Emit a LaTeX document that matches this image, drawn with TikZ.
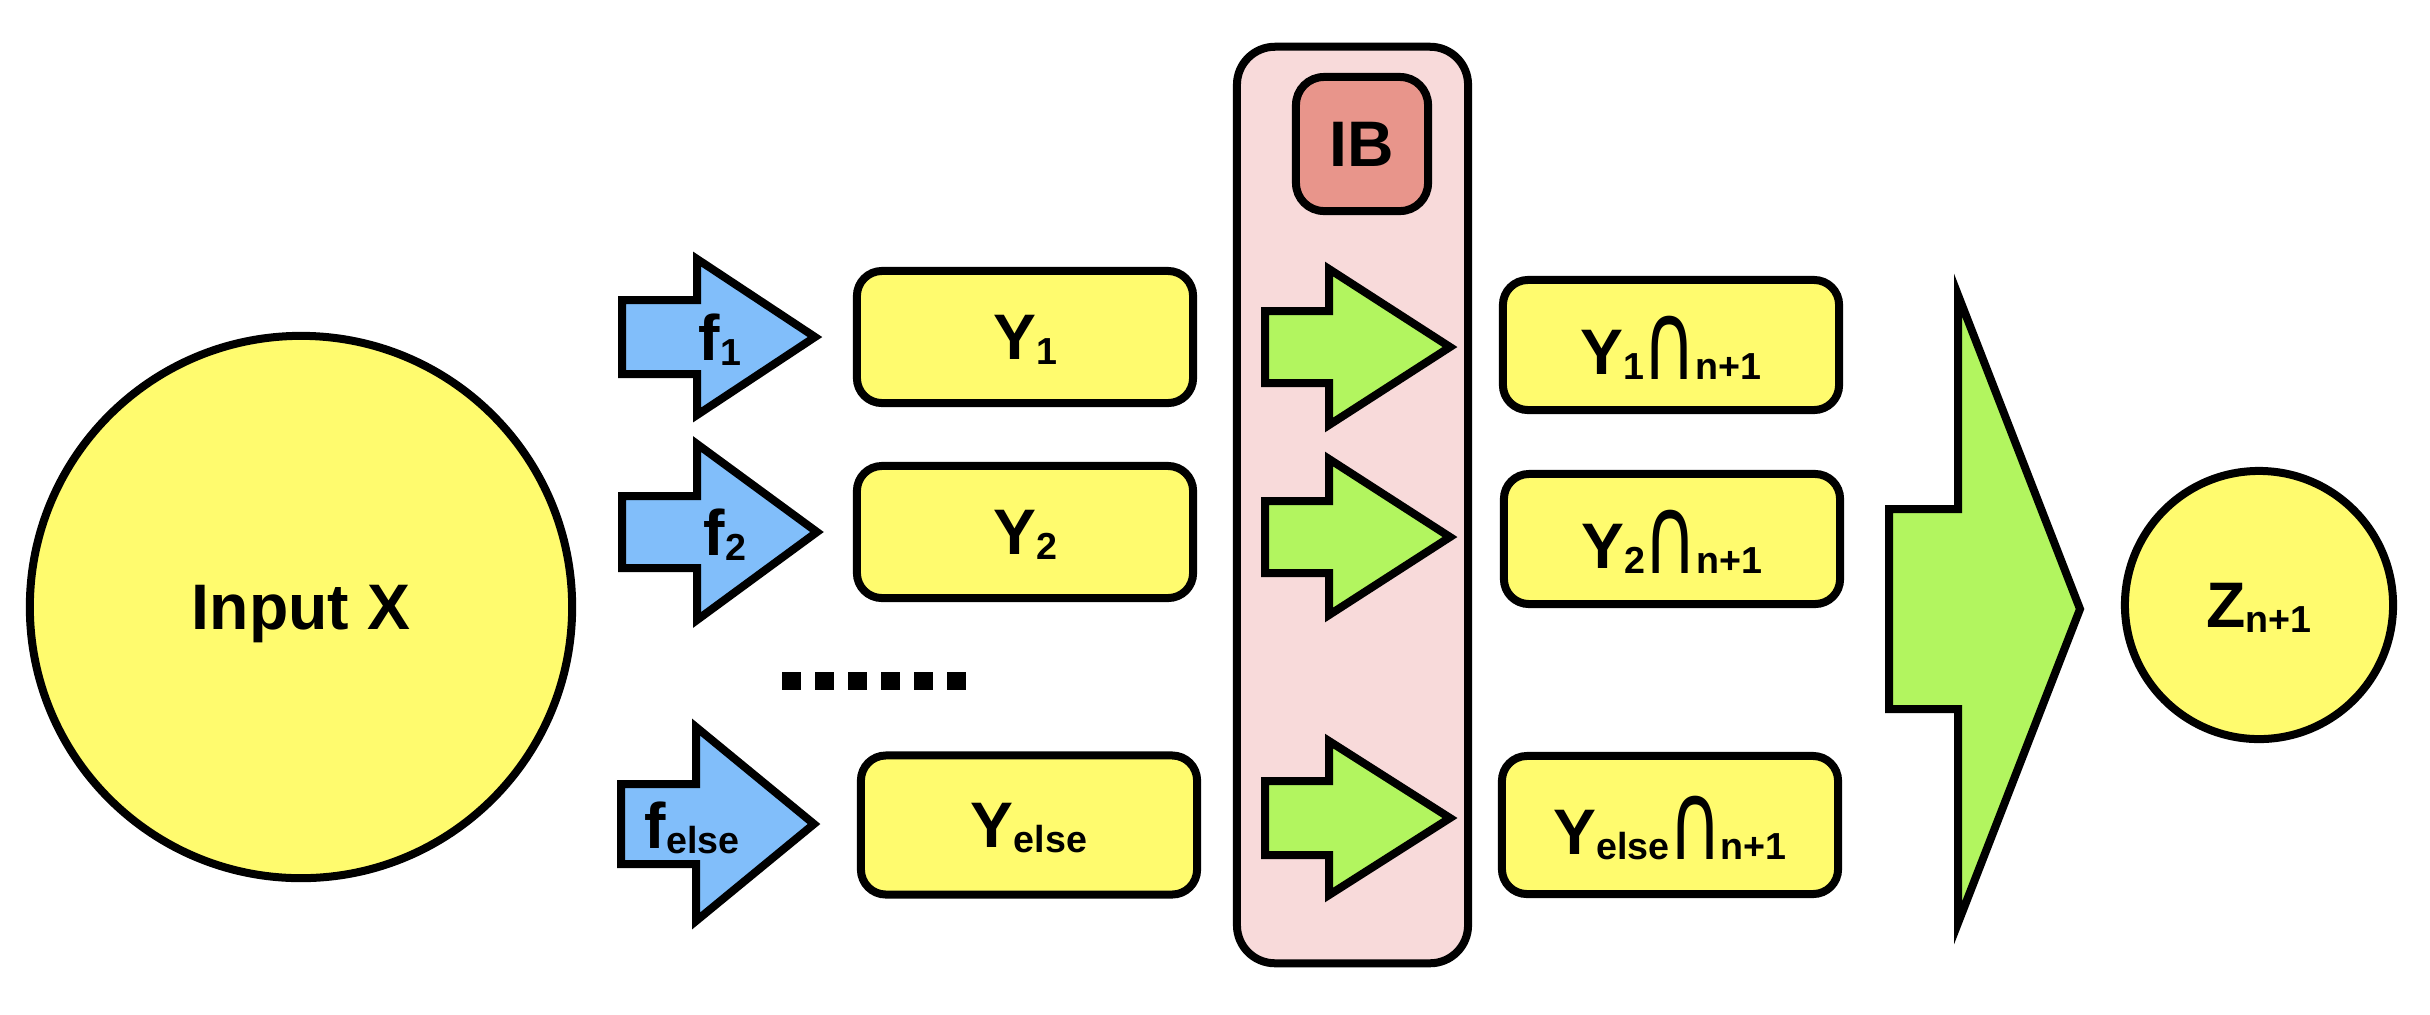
\documentclass[tikz,border=0pt]{standalone}
\usepackage{fontspec}
\usepackage{graphicx}
\setmainfont{Liberation Sans}
\newfontfamily\djv{DejaVu Sans}
\definecolor{yfill}{RGB}{255,251,110}
\definecolor{bfill}{RGB}{129,190,250}
\definecolor{gfill}{RGB}{178,245,95}
\definecolor{pfill}{RGB}{248,218,218}
\definecolor{sfill}{RGB}{232,149,139}
\newcommand{\sbx}[1]{\raisebox{-1.4pt}{\fontsize{10.7pt}{12pt}\selectfont #1}}
\newcommand{\capx}{\kern-0.5pt\raisebox{-1.4pt}{\scalebox{1.15}[1.7]{\djv\mdseries ∩}}\kern-0.5pt}
\newcommand{\blockarr}[7]{\filldraw[outl,fill=#1] (#2,{#5-#6}) -- (#3,{#5-#6}) -- (#3,{#5-#7}) -- (#4,#5) -- (#3,{#5+#7}) -- (#3,{#5+#6}) -- (#2,{#5+#6}) -- cycle;}
\begin{document}
\begin{tikzpicture}[x=0.01cm,y=-0.01cm,
  outl/.style={draw=black,line width=0.08cm,line join=miter},
  txt/.style={font=\bfseries\fontsize{18.3pt}{20pt}\selectfont,text depth=0pt,inner sep=0pt},
  ybox/.style={outl,txt,fill=yfill,rounded corners=0.25cm,minimum width=3.36cm,minimum height=1.32cm},
  ycirc/.style={outl,txt,circle,fill=yfill}]
\useasboundingbox (0,0) rectangle (2430,1014);
% input
\node[ycirc,minimum size=5.42cm] (inx) at (301,607) {Input X};
% blue arrows
\blockarr{bfill}{622}{697}{815}{337}{37}{78}
\blockarr{bfill}{622}{697}{817}{532}{36}{88}
\blockarr{bfill}{621}{696}{814}{824}{40}{97}
\node[txt] (f1) at (720,337) {f\sbx{1}};
\node[txt] (f2) at (725,532) {f\sbx{2}};
\node[txt] (fe) at (692,825) {f\sbx{else}};
% dots
\draw[line width=0.18cm,dash pattern=on 0.19cm off 0.14cm] (782,681) -- (967,681);
% Y boxes
\node[ybox] (y1) at (1025,337) {Y\sbx{1}};
\node[ybox] (y2) at (1025,532) {Y\sbx{2}};
\node[ybox,minimum height=1.39cm] (ye) at (1029,825) {Y\sbx{else}};
% IB container
\node[outl,fill=pfill,rounded corners=0.38cm,minimum width=2.31cm,minimum height=9.16cm] (ibc) at (1352.5,505) {};
\node[outl,txt,fill=sfill,rounded corners=0.28cm,minimum width=1.32cm,minimum height=1.34cm] (ib) at (1362,144) {IB};
% green arrows
\blockarr{gfill}{1265}{1329}{1450}{347}{36}{78}
\blockarr{gfill}{1265}{1329}{1450}{537}{36}{78}
\blockarr{gfill}{1265}{1329}{1450}{818}{37}{77}
% right boxes
\node[ybox,minimum height=1.30cm] (y1n) at (1671,345) {Y\sbx{1}\capx\sbx{n+1}};
\node[ybox,minimum height=1.30cm] (y2n) at (1672,539) {Y\sbx{2}\capx\sbx{n+1}};
\node[ybox,minimum height=1.38cm] (yen) at (1670,825) {Y\sbx{else}\capx\sbx{n+1}};
% big arrow
\blockarr{gfill}{1889}{1958}{2080}{609}{100}{314}
% output
\node[ycirc,minimum size=2.68cm] (z) at (2259,605) {Z\sbx{n+1}};
\end{tikzpicture}
\end{document}
